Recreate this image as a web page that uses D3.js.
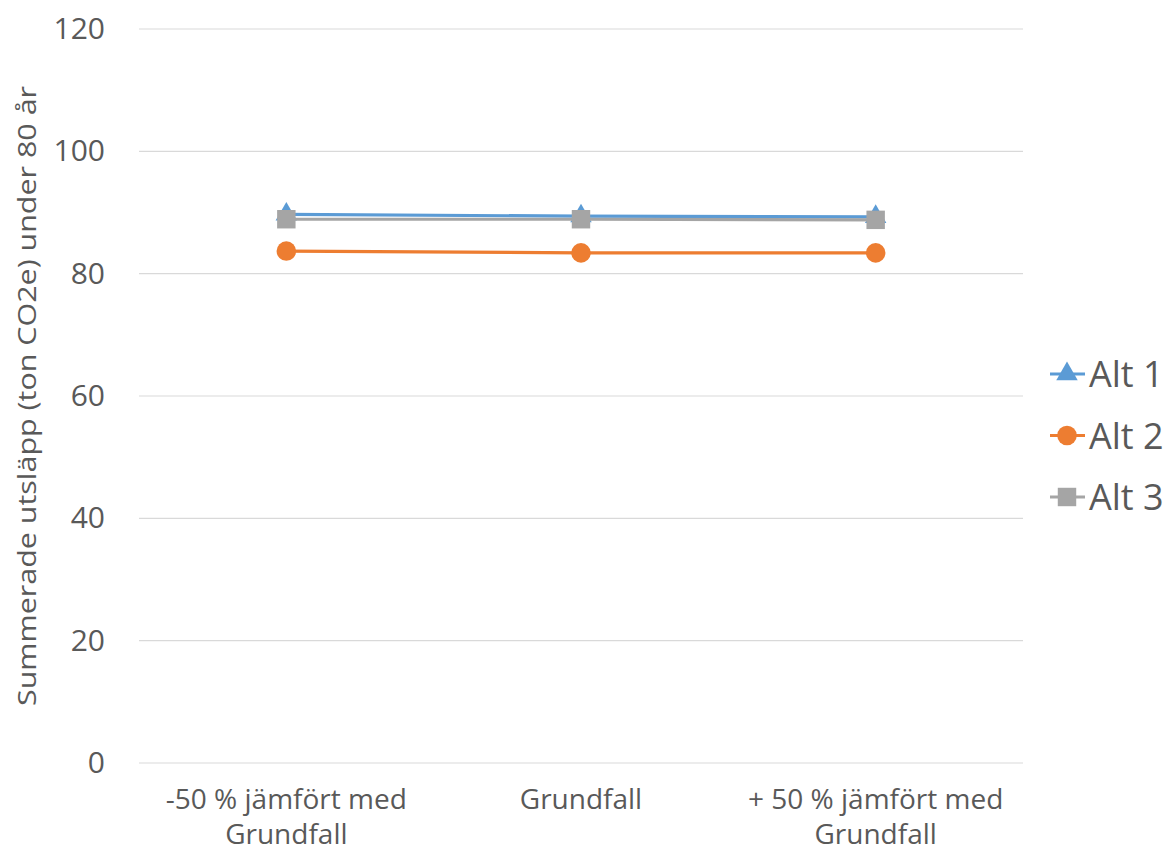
<!DOCTYPE html>
<html><head><meta charset="utf-8">
<script src="https://cdn.jsdelivr.net/npm/d3@7"></script>
<style>body{margin:0;background:#fff;}svg{display:block;font-family:"Open Sans",sans-serif;}</style>
</head><body><svg id="c" width="1170" height="854"></svg>
<script>
const categories = [["-50 % jämfört med","Grundfall"],["Grundfall"],["+ 50 % jämfört med","Grundfall"]];
const seriesNames = ["Alt 1","Alt 2","Alt 3"];
const alt1 = [89.7, 89.4, 89.3];
const alt2 = [83.7, 83.4, 83.4];
const alt3 = [88.9, 88.9, 88.8];
const yTicks = [0,20,40,60,80,100,120];
const colors = ["#5b9bd5","#ed7d31","#a5a5a5"];
const symbols = [d3.symbolTriangle, d3.symbolCircle, d3.symbolSquare];
const yTitle = "Summerade utsläpp (ton CO2e) under 80 år";

const svg = d3.select("#c");
const L=139,R=1023,T=29,B=763;
const x = d3.scaleBand().domain([0,1,2]).range([L,R]);
const y = d3.scaleLinear().domain([0,120]).range([B,T]);
const txt="#595959";

svg.append("g").selectAll("line").data(yTicks).join("line")
  .attr("x1",L).attr("x2",R).attr("y1",d=>y(d)).attr("y2",d=>y(d))
  .attr("stroke","#d9d9d9").attr("stroke-width",1.2);

svg.append("g").selectAll("text").data(yTicks).join("text")
  .attr("x",105).attr("y",d=>y(d)+10).attr("text-anchor","end")
  .attr("font-size",30).attr("fill",txt).text(d=>d);

const cg = svg.append("g");
categories.forEach((lines,i)=>{
  lines.forEach((s,j)=>{
    cg.append("text").attr("x",x(i)+x.bandwidth()/2).attr("y",809+j*35)
      .attr("text-anchor","middle").attr("font-size",28).attr("fill",txt).text(s);
  });
});

svg.append("text").attr("transform",`translate(36,${396}) rotate(-90)`)
  .attr("text-anchor","middle").attr("font-size",26).attr("fill",txt)
  .attr("textLength",620).attr("lengthAdjust","spacingAndGlyphs").text(yTitle);

const data=[alt1,alt2,alt3];
const line=d3.line().x((d,i)=>x(i)+x.bandwidth()/2).y(d=>y(d));
const sizes=[200,300,340];
data.forEach((vals,k)=>{
  const g=svg.append("g");
  g.append("path").datum(vals).attr("d",line).attr("fill","none")
   .attr("stroke",colors[k]).attr("stroke-width",3.2).attr("stroke-linecap","round");
  g.selectAll("path.m").data(vals).join("path").attr("class","m")
   .attr("transform",(d,i)=>`translate(${x(i)+x.bandwidth()/2},${y(d)})`)
   .attr("d",d3.symbol().type(symbols[k]).size(sizes[k])).attr("fill",colors[k]);
});

const lg=svg.append("g");
seriesNames.forEach((n,k)=>{
  const yy=374+k*61.5;
  lg.append("line").attr("x1",1050).attr("x2",1085).attr("y1",yy).attr("y2",yy)
    .attr("stroke",colors[k]).attr("stroke-width",3.2);
  lg.append("path").attr("transform",`translate(1067,${yy})`)
    .attr("d",d3.symbol().type(symbols[k]).size(sizes[k])).attr("fill",colors[k]);
  lg.append("text").attr("x",1089).attr("y",yy+13).attr("font-size",36).attr("fill",txt).text(n);
});
</script></body></html>
